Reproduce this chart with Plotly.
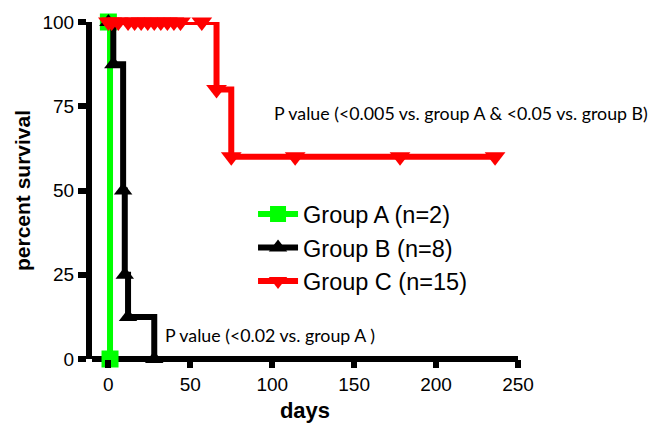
import plotly.graph_objects as go

# Group A (n=2)
a_days = [0, 1]
a_surv = [100, 0]
# Group B (n=8)
b_days = [0, 3, 9, 10, 12, 28]
b_surv = [100, 87.5, 50, 25, 12.5, 0]
# Group C (n=15)
c_days = [0, 2, 6, 12, 16, 20, 24, 28, 32, 36, 40, 44, 57, 66, 75, 114, 178, 236]
c_surv = [100, 100, 100, 100, 100, 100, 100, 100, 100, 100, 100, 100, 100, 80, 60, 60, 60, 60]

names = ["Group A (n=2)", "Group B (n=8)", "Group C (n=15)"]
x_ticks = [0, 50, 100, 150, 200, 250]
y_ticks = [0, 25, 50, 75, 100]
note_c = "P value (<0.005 vs. group A & <0.05 vs. group B)"
note_b = "P value (<0.02 vs. group A )"

SANS = "Liberation Sans, Arial"

fig = go.Figure()
fig.add_trace(go.Scatter(x=a_days, y=a_surv, name=names[0], legendgroup="a",
                         mode="lines+markers", line=dict(color="#00ff00", width=6, shape="hv"),
                         marker=dict(symbol="square", size=17, color="#00ff00"), cliponaxis=False))
fig.add_trace(go.Scatter(x=b_days, y=b_surv, name=names[1], legendgroup="b",
                         mode="lines+markers", line=dict(color="black", width=6, shape="hv"),
                         marker=dict(symbol="triangle-up", size=16, color="black"), cliponaxis=False))
fig.add_trace(go.Scatter(x=c_days, y=c_surv, name=names[2], legendgroup="c",
                         mode="lines+markers", line=dict(color="#ff0000", width=6, shape="hv"),
                         marker=dict(symbol="triangle-down", size=18, color="#ff0000"), cliponaxis=False))

fig.add_annotation(x=100, y=73, text=note_c, showarrow=False, xanchor="left", yanchor="middle",
                   font=dict(family="Lato", size=17.8, color="black"))
fig.add_annotation(x=33.5, y=7, text=note_b, showarrow=False, xanchor="left", yanchor="middle",
                   font=dict(family="Lato", size=17.8, color="black"))

fig.update_layout(
    width=651, height=428,
    margin=dict(l=92, r=133, t=22, b=69),
    plot_bgcolor="white", paper_bgcolor="white",
    font=dict(family=SANS, color="black"),
    legend=dict(x=0.378, y=0.495, xanchor="left", yanchor="top",
                font=dict(family=SANS, size=23.5, color="black"),
                tracegroupgap=0, bgcolor="rgba(0,0,0,0)", itemwidth=40),
    xaxis=dict(range=[-10, 250], tickvals=x_ticks, ticks="outside", ticklen=8, tickwidth=6,
               showline=False, tickcolor="black",
               showgrid=False, zeroline=False, automargin=False,
               tickfont=dict(family=SANS, size=19, color="black"),
               title=dict(text="<b>days</b>", font=dict(family=SANS, size=22, color="black"), standoff=8)),
    yaxis=dict(range=[0, 100], tickvals=y_ticks, ticks="outside", ticklen=8, tickwidth=6,
               showline=True, linewidth=6, linecolor="black", tickcolor="black",
               showgrid=False, zeroline=True, zerolinewidth=6, zerolinecolor="black",
               automargin=False,
               tickfont=dict(family=SANS, size=19, color="black"),
               title=dict(text="<b>percent survival</b>", font=dict(family=SANS, size=21, color="black"), standoff=8)),
)
fig.update_xaxes(tickprefix="<b>", ticksuffix="</b>")
fig.update_yaxes(tickprefix="<b>", ticksuffix="</b>")

fig.write_html("out.html")
